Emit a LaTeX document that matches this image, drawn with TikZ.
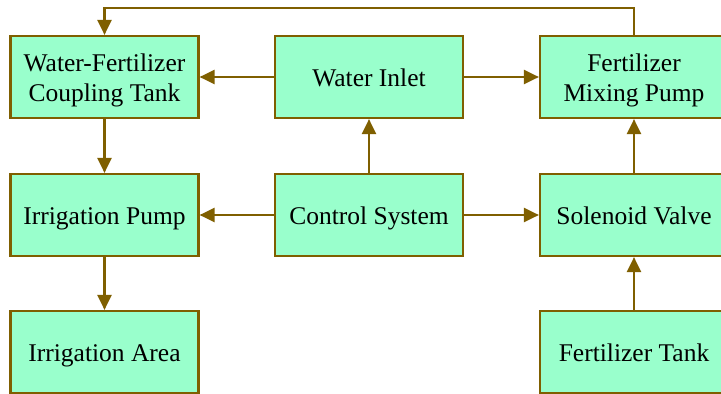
\documentclass[tikz,border=0pt]{standalone}
\usepackage{fontspec}
\setmainfont{Liberation Serif}
\usetikzlibrary{arrows.meta}
\definecolor{boxfill}{HTML}{99FFCC}
\definecolor{brown}{HTML}{7F5F00}
\begin{document}
\begin{tikzpicture}[x=1pt,y=-1pt,
  blk/.style={draw=brown, line width=2.2pt, fill=boxfill, minimum width=188pt, minimum height=82pt,
    align=center, inner sep=0pt, font=\fontsize{25.5}{30}\selectfont},
  one/.style={text height=18pt, text depth=0pt},
  two/.style={text height=48pt, text depth=0pt},
  conn/.style={draw=brown, line width=2.2pt, -{Triangle[length=15pt,width=14pt]}}]
\useasboundingbox (0,0) rectangle (721,394);
\node[blk,two] (wfct) at (104.5,77) {Water-Fertilizer\\Coupling Tank};
\node[blk,one] (wi) at (369,77) {Water Inlet};
\node[blk,two] (fmp) at (634,77) {Fertilizer\\Mixing Pump};
\node[blk,one] (ip) at (104.5,215) {Irrigation Pump};
\node[blk,one] (cs) at (369,215) {Control System};
\node[blk,one] (sv) at (634,215) {Solenoid Valve};
\node[blk,one] (ia) at (104.5,352) {Irrigation Area};
\node[blk,one] (ft) at (634,352) {Fertilizer Tank};
\draw[conn] (wi) -- (wfct);
\draw[conn] (wi) -- (fmp);
\draw[conn] (cs) -- (wi);
\draw[conn] (cs) -- (ip);
\draw[conn] (cs) -- (sv);
\draw[conn] (wfct) -- (ip);
\draw[conn] (ip) -- (ia);
\draw[conn] (sv) -- (fmp);
\draw[conn] (ft) -- (sv);
\coordinate (tr) at (634,8);
\coordinate (tl) at (104.5,8);
\draw[conn] (fmp.north) -- (tr) -- (tl) -- (wfct.north);
\end{tikzpicture}
\end{document}
